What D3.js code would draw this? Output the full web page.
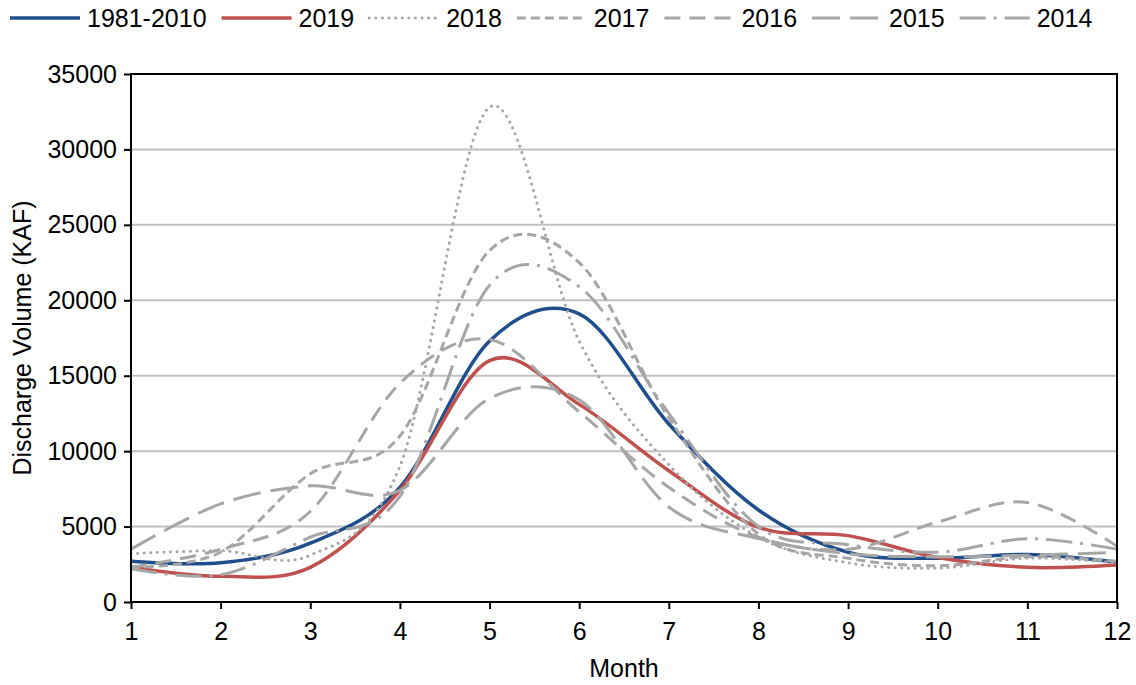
<!DOCTYPE html>
<html>
<head>
<meta charset="utf-8">
<script src="https://cdn.jsdelivr.net/npm/d3@7"></script>
<style>
  body { margin: 0; background: #fff; }
  svg text { font-family: "Liberation Sans", Arial, sans-serif; fill: #000; }
</style>
</head>
<body>
<div id="chart"></div>
<script>
// monthly discharge volume (KAF)
var months = [1, 2, 3, 4, 5, 6, 7, 8, 9, 10, 11, 12];
var avg8110 = [2700, 2600, 3900, 7600, 17300, 19100, 11800, 6100, 3300, 2900, 3150, 2650];
var y2019 = [2300, 1700, 2300, 7400, 16000, 13100, 8700, 4950, 4400, 2950, 2300, 2450];
var y2018 = [3200, 3400, 3100, 9000, 32800, 17300, 9100, 4300, 2600, 2250, 2900, 2600];
var y2017 = [2300, 3300, 8500, 11000, 23300, 22500, 12200, 4500, 2900, 2400, 3000, 2700];
var y2016 = [2300, 3500, 6000, 14500, 17400, 12600, 7600, 4300, 3500, 5300, 6600, 3700];
var y2015 = [3500, 6500, 7700, 7400, 13500, 13400, 6300, 4200, 3200, 3000, 3100, 3300];
var y2014 = [2200, 1800, 4300, 7000, 21000, 20900, 12500, 5000, 3800, 3300, 4200, 3500];
var yTicks = [0, 5000, 10000, 15000, 20000, 25000, 30000, 35000];

var series = [
  { name: "1981-2010", values: avg8110, color: "#1f4e8c", width: 3.5, dash: null, cap: "butt" },
  { name: "2019", values: y2019, color: "#c0504d", width: 3.5, dash: null, cap: "butt" },
  { name: "2018", values: y2018, color: "#a6a6a6", width: 3, dash: "0.1 6.5", cap: "round" },
  { name: "2017", values: y2017, color: "#a6a6a6", width: 3, dash: "9 5", cap: "butt" },
  { name: "2016", values: y2016, color: "#a6a6a6", width: 3, dash: "16 9", cap: "butt" },
  { name: "2015", values: y2015, color: "#a6a6a6", width: 3, dash: "28 10", cap: "butt" },
  { name: "2014", values: y2014, color: "#a6a6a6", width: 3, dash: "26 8 3 8", cap: "butt" }
];

drawChart();

function drawChart() {
  var width = 1136, height = 685;
  var pLeft = 131, pRight = 1117, pTop = 74, pBottom = 602;
  var fontSize = 25;

  var svg = d3.select("#chart").append("svg")
    .attr("width", width)
    .attr("height", height);

  var x = d3.scaleLinear().domain([1, 12]).range([pLeft, pRight]);
  var y = d3.scaleLinear().domain([0, 35000]).range([pBottom, pTop]);

  // gridlines
  svg.append("g")
    .selectAll("line")
    .data(yTicks.filter(function(d) { return d > 0 && d < 35000; }))
    .enter().append("line")
    .attr("x1", pLeft).attr("x2", pRight)
    .attr("y1", function(d) { return y(d); })
    .attr("y2", function(d) { return y(d); })
    .attr("stroke", "#c0c0c0")
    .attr("stroke-width", 2);

  // axes
  var yAxis = svg.append("g")
    .attr("transform", "translate(" + pLeft + ",0)")
    .call(d3.axisLeft(y).tickValues(yTicks).tickSize(7).tickPadding(7).tickFormat(d3.format("d")));
  var xAxis = svg.append("g")
    .attr("transform", "translate(0," + pBottom + ")")
    .call(d3.axisBottom(x).tickValues(months).tickSize(7).tickPadding(13).tickFormat(d3.format("d")));

  [yAxis, xAxis].forEach(function(ax) {
    ax.select(".domain").remove();
    ax.selectAll(".tick line").attr("stroke", "#000").attr("stroke-width", 2);
    ax.selectAll(".tick text")
      .style("font-size", fontSize + "px")
      .attr("fill", "#000");
  });

  // lines, drawn in legend order (grays end up on top like the original)
  var line = d3.line()
    .x(function(d, i) { return x(months[i]); })
    .y(function(d) { return y(d); })
    .curve(d3.curveCardinal.tension(0));

  svg.append("clipPath").attr("id", "plotclip")
    .append("rect")
    .attr("x", pLeft).attr("y", pTop - 10)
    .attr("width", pRight - pLeft).attr("height", pBottom - pTop + 10);

  svg.append("g")
    .attr("clip-path", "url(#plotclip)")
    .selectAll("path")
    .data(series)
    .enter().append("path")
    .attr("d", function(d) { return line(d.values); })
    .attr("fill", "none")
    .attr("stroke", function(d) { return d.color; })
    .attr("stroke-width", function(d) { return d.width; })
    .attr("stroke-dasharray", function(d) { return d.dash; })
    .attr("stroke-linecap", function(d) { return d.cap; })
    .attr("stroke-linejoin", "round");

  // plot frame
  svg.append("rect")
    .attr("x", pLeft).attr("y", pTop)
    .attr("width", pRight - pLeft).attr("height", pBottom - pTop)
    .attr("fill", "none")
    .attr("stroke", "#000")
    .attr("stroke-width", 2);

  // axis titles
  svg.append("text")
    .attr("transform", "translate(31," + ((pTop + pBottom) / 2) + ") rotate(-90)")
    .attr("text-anchor", "middle")
    .style("font-size", fontSize + "px")
    .text("Discharge Volume (KAF)");

  svg.append("text")
    .attr("x", (pLeft + pRight) / 2)
    .attr("y", 677)
    .attr("text-anchor", "middle")
    .style("font-size", fontSize + "px")
    .text("Month");

  // legend
  var legendX = 10, legendY = 18, sampleLen = 70, textGap = 7, itemGap = 15;
  var legend = svg.append("g");
  var cursor = legendX;
  series.forEach(function(s) {
    legend.append("line")
      .attr("x1", cursor).attr("x2", cursor + sampleLen)
      .attr("y1", legendY).attr("y2", legendY)
      .attr("stroke", s.color)
      .attr("stroke-width", s.width)
      .attr("stroke-dasharray", s.dash)
      .attr("stroke-linecap", s.cap);
    var t = legend.append("text")
      .attr("x", cursor + sampleLen + textGap)
      .attr("y", legendY + 9)
      .style("font-size", fontSize + "px")
      .text(s.name);
    cursor += sampleLen + textGap + t.node().getComputedTextLength() + itemGap;
  });
}
</script>
</body>
</html>
